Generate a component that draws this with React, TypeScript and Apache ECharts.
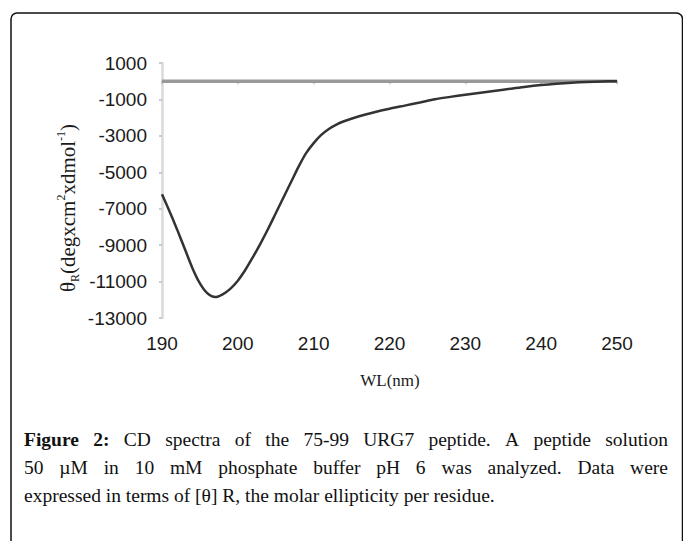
import React, { useEffect, useRef } from "react";
import * as echarts from "echarts";

const wavelengths = [
  190, 191, 192, 193, 194, 195, 196, 197, 198, 199, 200, 201, 202, 203, 204, 205,
  206, 207, 208, 209, 210, 211, 212, 213, 214, 216, 218, 220, 222, 224, 226, 228,
  230, 232, 234, 236, 238, 240, 242, 244, 246, 248, 250,
];
const ellipticity = [
  -6200, -7150, -8150, -9200, -10250, -11100, -11650, -11850, -11700, -11400, -10950,
  -10350, -9650, -8900, -8100, -7250, -6400, -5550, -4700, -3950, -3400, -2950, -2620,
  -2380, -2200, -1920, -1700, -1510, -1340, -1170, -990, -860, -740, -630, -520, -410,
  -300, -210, -140, -85, -45, -15, 0,
];
const baselineWl = [190, 250];
const baselineVal = [0, 0];

const xMin = 190;
const xMax = 250;
const xStep = 10;
const yMin = -13000;
const yMax = 1000;
const yStep = 2000;

const yTitleRich = "{a|θ}{s|R}{a|(degxcm}{p|2}{a|xdmol}{p|-1}{a|)}";
const xTitle = "WL(nm)";

const captionBold = ["Figure", "2:"];
const captionLine1 = "CD spectra of the 75-99 URG7 peptide. A peptide solution";
const captionLine2 = "50 µM in 10 mM phosphate buffer pH 6 was analyzed. Data were";
const captionLine3 = "expressed in terms of [θ] R, the molar ellipticity per residue.";

const SERIF = '"Liberation Serif", "Times New Roman", serif';
const SANS = '"Liberation Sans", Arial, sans-serif';

function justifiedWords(
  words: { t: string; bold: boolean }[],
  left: number,
  right: number,
  y: number,
  size: number
) {
  const ctx = document.createElement("canvas").getContext("2d")!;
  const widths = words.map((w) => {
    ctx.font = `${w.bold ? "bold " : ""}${size}px "Liberation Serif"`;
    return ctx.measureText(w.t).width;
  });
  const total = widths.reduce((a, b) => a + b, 0);
  const gap = (right - left - total) / (words.length - 1);
  let x = left;
  return words.map((w, i) => {
    const el = {
      type: "text",
      x,
      y,
      silent: true,
      style: {
        text: w.t,
        fontFamily: SERIF,
        fontSize: size,
        fontWeight: w.bold ? "bold" : "normal",
        fill: "#111",
        align: "left",
        verticalAlign: "middle",
      },
    };
    x += widths[i] + gap;
    return el;
  });
}

export default function App() {
  const ref = useRef<HTMLDivElement>(null);
  useEffect(() => {
    document.body.style.margin = "0";
    const chart = echarts.init(ref.current!, undefined, { renderer: "svg" });
    const capSize = 19.5;
    const left = 24;
    const right = 668;
    const line1 = [
      ...captionBold.map((t) => ({ t, bold: true })),
      ...captionLine1.split(" ").map((t) => ({ t, bold: false })),
    ];
    const line2 = captionLine2.split(" ").map((t) => ({ t, bold: false }));
    const graphics: any[] = [
      {
        type: "rect",
        silent: true,
        shape: { x: 11, y: 13, width: 671.5, height: 620, r: 6 },
        style: { fill: "none", stroke: "#111", lineWidth: 1.5 },
      },
      {
        type: "text",
        x: 68,
        y: 208,
        rotation: Math.PI / 2,
        silent: true,
        style: {
          text: yTitleRich,
          align: "center",
          verticalAlign: "middle",
          fill: "#1a1a1a",
          rich: {
            a: { fontFamily: SERIF, fontSize: 21, lineHeight: 26, fill: "#1a1a1a" },
            s: { fontFamily: SERIF, fontSize: 12, verticalAlign: "bottom", fill: "#1a1a1a" },
            p: { fontFamily: SERIF, fontSize: 12, verticalAlign: "top", fill: "#1a1a1a" },
          },
        },
      },
      {
        type: "text",
        x: 390,
        y: 380,
        silent: true,
        style: {
          text: xTitle,
          fontFamily: SERIF,
          fontSize: 17,
          fill: "#1a1a1a",
          align: "center",
          verticalAlign: "middle",
        },
      },
      ...justifiedWords(line1, left, right, 439, capSize),
      ...justifiedWords(line2, left, right, 467, capSize),
      {
        type: "text",
        x: left,
        y: 495,
        silent: true,
        style: {
          text: captionLine3,
          fontFamily: SERIF,
          fontSize: capSize,
          fill: "#111",
          align: "left",
          verticalAlign: "middle",
        },
      },
    ];

    chart.setOption({
      animation: false,
      backgroundColor: "#ffffff",
      grid: { left: 162, right: 66, top: 63, bottom: 223 },
      xAxis: {
        type: "value",
        min: xMin,
        max: xMax,
        interval: xStep,
        axisLine: { lineStyle: { color: "#d6ddd6", width: 2.5 } },
        axisTick: { show: true, length: 3, lineStyle: { color: "#b8bdb8", width: 1.5 } },
        axisLabel: {
          fontFamily: SANS,
          fontSize: 19,
          color: "#1a1a1a",
          margin: 16,
          formatter: (v: number) => String(v),
        },
        splitLine: { show: false },
      },
      yAxis: {
        type: "value",
        min: yMin,
        max: yMax,
        interval: yStep,
        axisLine: { show: true, lineStyle: { color: "#d6ddd6", width: 2.5 } },
        axisTick: { show: true, length: 3, lineStyle: { color: "#b8bdb8", width: 1.5 } },
        axisLabel: {
          fontFamily: SANS,
          fontSize: 19,
          color: "#1a1a1a",
          margin: 15,
          formatter: (v: number) => String(v),
        },
        splitLine: { show: false },
      },
      series: [
        {
          type: "line",
          data: baselineWl.map((w, i) => [w, baselineVal[i]]),
          showSymbol: false,
          lineStyle: { color: "#999999", width: 3.5 },
          silent: true,
        },
        {
          type: "line",
          data: wavelengths.map((w, i) => [w, ellipticity[i]]),
          showSymbol: false,
          smooth: 0.3,
          lineStyle: { color: "#333333", width: 2.5 },
          silent: true,
        },
      ],
      graphic: graphics,
    });
    return () => chart.dispose();
  }, []);
  return <div ref={ref} style={{ width: 683, height: 541 }} />;
}
